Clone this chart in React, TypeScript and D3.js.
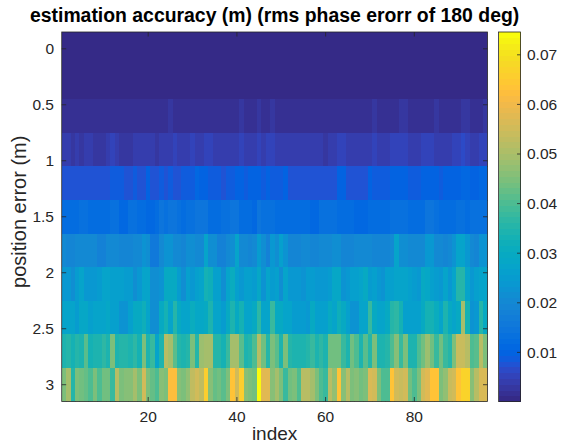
import { useEffect, useRef } from "react";
import * as d3 from "d3";

// image rows (position error, m) and columns (index)
const positionErrors = [0, 0.3, 0.6, 0.9, 1.2, 1.5, 1.8, 2.1, 2.4, 2.7, 3.0];
const indexValues = d3.range(1, 97);
const xTickValues = [20, 40, 60, 80];
const yTickValues = [0, 0.5, 1, 1.5, 2, 2.5, 3];
const colorTickValues = [0.01, 0.02, 0.03, 0.04, 0.05, 0.06, 0.07];

// estimation accuracy (m), one array per row, index 1..96
const acc00 = [
  0.0001, 0.0001, 0.0001, 0.0001, 0.0001, 0.0001, 0.0001, 0.0001, 0.0001, 0.0001, 0.0001, 0.0001,
  0.0001, 0.0001, 0.0001, 0.0001, 0.0001, 0.0001, 0.0001, 0.0001, 0.0001, 0.0001, 0.0001, 0.0001,
  0.0001, 0.0001, 0.0001, 0.0001, 0.0001, 0.0001, 0.0001, 0.0001, 0.0001, 0.0001, 0.0001, 0.0001,
  0.0001, 0.0001, 0.0001, 0.0001, 0.0001, 0.0001, 0.0001, 0.0001, 0.0001, 0.0001, 0.0001, 0.0001,
  0.0001, 0.0001, 0.0001, 0.0001, 0.0001, 0.0001, 0.0001, 0.0001, 0.0001, 0.0001, 0.0001, 0.0001,
  0.0001, 0.0001, 0.0001, 0.0001, 0.0001, 0.0001, 0.0001, 0.0001, 0.0001, 0.0001, 0.0001, 0.0001,
  0.0001, 0.0001, 0.0001, 0.0001, 0.0001, 0.0001, 0.0001, 0.0001, 0.0001, 0.0001, 0.0001, 0.0001,
  0.0001, 0.0001, 0.0001, 0.0001, 0.0001, 0.0001, 0.0001, 0.0001, 0.0001, 0.0001, 0.0001, 0.0001,
];
const acc03 = [
  0.0004, 0.0004, 0.0004, 0.0004, 0.0004, 0.0004, 0.0004, 0.0004, 0.0004, 0.0004, 0.0004, 0.0004,
  0.0004, 0.0004, 0.0004, 0.0004, 0.0004, 0.0004, 0.0004, 0.0004, 0.0004, 0.0004, 0.0004, 0.0004,
  0.0004, 0.0004, 0.0004, 0.0004, 0.0004, 0.0004, 0.0004, 0.0004, 0.0004, 0.0004, 0.0004, 0.0004,
  0.0004, 0.0004, 0.0004, 0.0004, 0.0004, 0.0004, 0.0004, 0.0004, 0.0004, 0.0004, 0.0004, 0.0004,
  0.0004, 0.0004, 0.0004, 0.0004, 0.0004, 0.0004, 0.0004, 0.0004, 0.0004, 0.0004, 0.0004, 0.0004,
  0.0004, 0.0004, 0.0004, 0.0004, 0.0004, 0.0004, 0.0004, 0.0004, 0.0004, 0.0004, 0.0004, 0.0004,
  0.0004, 0.0004, 0.0004, 0.0004, 0.0004, 0.0004, 0.0004, 0.0004, 0.0004, 0.0004, 0.0004, 0.0004,
  0.0004, 0.0004, 0.0004, 0.0004, 0.0004, 0.0004, 0.0004, 0.0004, 0.0004, 0.0004, 0.0004, 0.0004,
];
const acc06 = [
  0.002, 0.002, 0.002, 0.002, 0.002, 0.002, 0.002, 0.002, 0.002, 0.002, 0.002, 0.002,
  0.002, 0.002, 0.002, 0.002, 0.002, 0.002, 0.002, 0.002, 0.002, 0.002, 0.002, 0.002,
  0.003, 0.002, 0.002, 0.002, 0.002, 0.002, 0.002, 0.002, 0.002, 0.002, 0.002, 0.002,
  0.002, 0.002, 0.002, 0.002, 0.003, 0.002, 0.002, 0.002, 0.0028, 0.002, 0.002, 0.0028,
  0.002, 0.002, 0.002, 0.002, 0.002, 0.002, 0.002, 0.002, 0.002, 0.002, 0.002, 0.002,
  0.002, 0.002, 0.002, 0.002, 0.002, 0.002, 0.002, 0.002, 0.002, 0.002, 0.003, 0.002,
  0.002, 0.002, 0.002, 0.002, 0.0032, 0.0026, 0.002, 0.002, 0.002, 0.002, 0.002, 0.002,
  0.003, 0.0022, 0.0022, 0.0022, 0.0022, 0.0022, 0.0032, 0.0028, 0.0024, 0.0022, 0.0022, 0.0028,
];
const acc09 = [
  0.0042, 0.0042, 0.003, 0.0045, 0.003, 0.0042, 0.0042, 0.0035, 0.0035, 0.0035, 0.0045, 0.0048,
  0.004, 0.0033, 0.0033, 0.0033, 0.0046, 0.0046, 0.0046, 0.0046, 0.0046, 0.0033, 0.0045, 0.0045,
  0.0045, 0.005, 0.0038, 0.0038, 0.0038, 0.005, 0.004, 0.004, 0.0048, 0.0048, 0.0045, 0.0045,
  0.0045, 0.0045, 0.004, 0.0046, 0.0055, 0.0042, 0.0042, 0.0042, 0.0048, 0.0038, 0.0048, 0.0048,
  0.0042, 0.0042, 0.0042, 0.0042, 0.0042, 0.0042, 0.0042, 0.0042, 0.0042, 0.0042, 0.0042, 0.0032,
  0.0045, 0.0045, 0.0055, 0.0055, 0.0042, 0.0042, 0.0042, 0.0042, 0.0042, 0.0042, 0.005, 0.004,
  0.004, 0.004, 0.0048, 0.0048, 0.0055, 0.005, 0.0042, 0.0042, 0.0042, 0.0048, 0.0048, 0.0056,
  0.0045, 0.0045, 0.0042, 0.0042, 0.0052, 0.0052, 0.0062, 0.005, 0.0042, 0.0042, 0.005, 0.005,
];
const acc12 = [
  0.008, 0.0075, 0.0075, 0.0078, 0.0078, 0.0078, 0.0072, 0.0072, 0.008, 0.008, 0.0082, 0.0085,
  0.0085, 0.0088, 0.0078, 0.0078, 0.009, 0.0082, 0.0082, 0.0095, 0.008, 0.008, 0.0085, 0.0078,
  0.0092, 0.0078, 0.0078, 0.0085, 0.0088, 0.0088, 0.011, 0.0095, 0.0095, 0.0085, 0.0085, 0.0085,
  0.0078, 0.009, 0.0085, 0.0105, 0.01, 0.009, 0.01, 0.01, 0.0105, 0.009, 0.01, 0.0085,
  0.0085, 0.0085, 0.0095, 0.008, 0.008, 0.008, 0.008, 0.008, 0.008, 0.008, 0.008, 0.008,
  0.008, 0.008, 0.01, 0.0105, 0.0082, 0.0082, 0.0082, 0.0082, 0.0082, 0.0098, 0.009, 0.0085,
  0.0085, 0.0092, 0.01, 0.0095, 0.0105, 0.0098, 0.0088, 0.0088, 0.0092, 0.0105, 0.0105, 0.0105,
  0.0098, 0.009, 0.01, 0.01, 0.0105, 0.0105, 0.0108, 0.0108, 0.0098, 0.0105, 0.011, 0.011,
];
const acc15 = [
  0.0125, 0.0125, 0.0125, 0.0125, 0.013, 0.013, 0.012, 0.012, 0.012, 0.012, 0.012, 0.0135,
  0.0135, 0.011, 0.011, 0.013, 0.014, 0.0125, 0.0125, 0.0115, 0.0115, 0.0125, 0.0145, 0.0135,
  0.015, 0.015, 0.0135, 0.012, 0.0135, 0.0135, 0.015, 0.015, 0.0145, 0.0125, 0.0125, 0.012,
  0.013, 0.013, 0.0145, 0.0145, 0.0125, 0.012, 0.012, 0.0115, 0.015, 0.0135, 0.0135, 0.0135,
  0.0125, 0.0125, 0.0125, 0.0125, 0.012, 0.012, 0.012, 0.012, 0.0115, 0.0115, 0.013, 0.013,
  0.013, 0.0135, 0.012, 0.012, 0.012, 0.012, 0.0115, 0.0115, 0.0115, 0.0118, 0.0118, 0.0118,
  0.0118, 0.0125, 0.0135, 0.013, 0.013, 0.013, 0.0125, 0.0125, 0.012, 0.012, 0.0145, 0.0145,
  0.0135, 0.012, 0.012, 0.012, 0.0125, 0.014, 0.014, 0.0125, 0.0135, 0.014, 0.0135, 0.0135,
];
const acc18 = [
  0.02, 0.019, 0.019, 0.02, 0.02, 0.02, 0.02, 0.02, 0.018, 0.018, 0.021, 0.021,
  0.021, 0.019, 0.019, 0.019, 0.02, 0.02, 0.023, 0.022, 0.016, 0.016, 0.02, 0.023,
  0.023, 0.02, 0.02, 0.019, 0.022, 0.022, 0.021, 0.021, 0.028, 0.022, 0.022, 0.018,
  0.018, 0.021, 0.022, 0.028, 0.02, 0.02, 0.019, 0.02, 0.025, 0.022, 0.018, 0.024,
  0.022, 0.026, 0.023, 0.019, 0.019, 0.019, 0.02, 0.02, 0.019, 0.019, 0.02, 0.02,
  0.02, 0.022, 0.022, 0.019, 0.019, 0.019, 0.02, 0.02, 0.02, 0.02, 0.019, 0.019,
  0.019, 0.019, 0.021, 0.028, 0.022, 0.022, 0.02, 0.02, 0.021, 0.02, 0.024, 0.024,
  0.02, 0.02, 0.019, 0.02, 0.023, 0.027, 0.027, 0.024, 0.02, 0.019, 0.023, 0.023,
];
const acc21 = [
  0.024, 0.024, 0.022, 0.025, 0.027, 0.024, 0.024, 0.024, 0.025, 0.027, 0.027, 0.026,
  0.026, 0.026, 0.025, 0.025, 0.022, 0.024, 0.028, 0.028, 0.022, 0.022, 0.023, 0.03,
  0.03, 0.03, 0.025, 0.022, 0.026, 0.024, 0.026, 0.027, 0.033, 0.032, 0.026, 0.026,
  0.022, 0.028, 0.031, 0.026, 0.024, 0.026, 0.026, 0.025, 0.029, 0.023, 0.027, 0.025,
  0.026, 0.022, 0.027, 0.024, 0.024, 0.024, 0.023, 0.025, 0.025, 0.024, 0.024, 0.024,
  0.025, 0.029, 0.029, 0.023, 0.024, 0.026, 0.026, 0.028, 0.03, 0.025, 0.026, 0.024,
  0.023, 0.026, 0.026, 0.028, 0.028, 0.028, 0.026, 0.025, 0.024, 0.03, 0.029, 0.026,
  0.025, 0.024, 0.027, 0.024, 0.028, 0.036, 0.036, 0.027, 0.024, 0.026, 0.027, 0.028,
];
const acc24 = [
  0.027, 0.028, 0.028, 0.025, 0.029, 0.029, 0.026, 0.028, 0.028, 0.027, 0.029, 0.026,
  0.026, 0.023, 0.023, 0.026, 0.03, 0.03, 0.032, 0.028, 0.022, 0.022, 0.03, 0.033,
  0.027, 0.036, 0.03, 0.028, 0.028, 0.031, 0.029, 0.029, 0.03, 0.034, 0.027, 0.027,
  0.025, 0.03, 0.035, 0.03, 0.033, 0.028, 0.028, 0.03, 0.037, 0.027, 0.028, 0.038,
  0.03, 0.03, 0.028, 0.027, 0.025, 0.025, 0.025, 0.024, 0.03, 0.026, 0.026, 0.026,
  0.03, 0.028, 0.032, 0.03, 0.026, 0.023, 0.023, 0.027, 0.028, 0.038, 0.03, 0.028,
  0.028, 0.03, 0.036, 0.037, 0.033, 0.026, 0.026, 0.026, 0.026, 0.03, 0.033, 0.033,
  0.031, 0.028, 0.035, 0.03, 0.028, 0.03, 0.05, 0.033, 0.023, 0.024, 0.036, 0.03,
];
const acc27 = [
  0.034, 0.036, 0.033, 0.036, 0.034, 0.041, 0.033, 0.034, 0.034, 0.037, 0.034, 0.045,
  0.034, 0.036, 0.036, 0.034, 0.037, 0.033, 0.045, 0.035, 0.038, 0.028, 0.035, 0.052,
  0.05, 0.042, 0.036, 0.034, 0.036, 0.045, 0.036, 0.048, 0.05, 0.05, 0.036, 0.036,
  0.033, 0.038, 0.05, 0.05, 0.042, 0.034, 0.036, 0.04, 0.052, 0.044, 0.036, 0.045,
  0.042, 0.034, 0.045, 0.036, 0.034, 0.034, 0.034, 0.036, 0.038, 0.034, 0.037, 0.034,
  0.044, 0.044, 0.044, 0.038, 0.034, 0.044, 0.04, 0.034, 0.042, 0.036, 0.045, 0.034,
  0.034, 0.036, 0.04, 0.046, 0.038, 0.045, 0.034, 0.034, 0.04, 0.044, 0.048, 0.044,
  0.038, 0.044, 0.038, 0.036, 0.045, 0.054, 0.054, 0.052, 0.04, 0.042, 0.052, 0.045,
];
const acc30 = [
  0.045, 0.05, 0.036, 0.045, 0.044, 0.043, 0.04, 0.045, 0.04, 0.044, 0.044, 0.038,
  0.052, 0.045, 0.046, 0.046, 0.05, 0.045, 0.055, 0.045, 0.043, 0.04, 0.046, 0.045,
  0.062, 0.062, 0.046, 0.045, 0.047, 0.053, 0.055, 0.053, 0.066, 0.046, 0.043, 0.044,
  0.042, 0.045, 0.064, 0.055, 0.066, 0.046, 0.045, 0.044, 0.0746, 0.058, 0.058, 0.046,
  0.05, 0.045, 0.038, 0.044, 0.045, 0.04, 0.052, 0.052, 0.05, 0.045, 0.04, 0.038,
  0.052, 0.047, 0.064, 0.046, 0.052, 0.045, 0.046, 0.044, 0.045, 0.056, 0.055, 0.045,
  0.04, 0.04, 0.064, 0.055, 0.054, 0.055, 0.044, 0.04, 0.045, 0.055, 0.058, 0.063,
  0.063, 0.045, 0.047, 0.054, 0.055, 0.064, 0.067, 0.067, 0.046, 0.052, 0.057, 0.057,
];
const accuracyRows = [acc00, acc03, acc06, acc09, acc12, acc15, acc18, acc21, acc24, acc27, acc30];

// parula(64)
const parula = [
  [0.2081, 0.1663, 0.5292], [0.2116, 0.1898, 0.5777], [0.2123, 0.2138, 0.627], [0.2081, 0.2386, 0.6771],
  [0.1959, 0.2645, 0.7279], [0.1707, 0.2919, 0.7792], [0.1253, 0.3242, 0.8303], [0.0591, 0.3598, 0.8683],
  [0.0117, 0.3875, 0.882], [0.006, 0.4086, 0.8828], [0.0165, 0.4266, 0.8786], [0.0329, 0.443, 0.872],
  [0.0498, 0.4586, 0.8641], [0.0629, 0.4737, 0.8554], [0.0723, 0.4887, 0.8467], [0.0779, 0.504, 0.8384],
  [0.0793, 0.52, 0.8312], [0.0749, 0.5375, 0.8263], [0.0641, 0.557, 0.824], [0.0488, 0.5772, 0.8228],
  [0.0343, 0.5966, 0.8199], [0.0265, 0.6137, 0.8135], [0.0239, 0.6287, 0.8038], [0.0231, 0.6418, 0.7913],
  [0.0228, 0.6535, 0.7768], [0.0267, 0.6642, 0.7607], [0.0384, 0.6743, 0.7436], [0.059, 0.6838, 0.7254],
  [0.0843, 0.6928, 0.7062], [0.1133, 0.7015, 0.6859], [0.1453, 0.7098, 0.6646], [0.1801, 0.7177, 0.6424],
  [0.2178, 0.725, 0.6193], [0.2586, 0.7317, 0.5954], [0.3022, 0.7376, 0.5712], [0.3482, 0.7424, 0.5473],
  [0.3953, 0.7459, 0.5244], [0.442, 0.7481, 0.5033], [0.4871, 0.7491, 0.484], [0.53, 0.7491, 0.4661],
  [0.5709, 0.7485, 0.4494], [0.6099, 0.7473, 0.4337], [0.6473, 0.7456, 0.4188], [0.6834, 0.7435, 0.4044],
  [0.7184, 0.7411, 0.3905], [0.7525, 0.7384, 0.3768], [0.7858, 0.7356, 0.3633], [0.8185, 0.7327, 0.3498],
  [0.8507, 0.7299, 0.336], [0.8824, 0.7274, 0.3217], [0.9139, 0.7258, 0.3063], [0.945, 0.7261, 0.2886],
  [0.9739, 0.7314, 0.2666], [0.9938, 0.7455, 0.2403], [0.999, 0.7653, 0.2164], [0.9955, 0.7861, 0.1967],
  [0.988, 0.8066, 0.1794], [0.9789, 0.8271, 0.1633], [0.9697, 0.8481, 0.1475], [0.9626, 0.8705, 0.1309],
  [0.9589, 0.8949, 0.1132], [0.9598, 0.9218, 0.0948], [0.9661, 0.9514, 0.0755], [0.9763, 0.9831, 0.0538],
];

export default function App() {
  const svgRef = useRef<SVGSVGElement>(null);

  useEffect(() => {
    if (!svgRef.current) return;
    const width = 563;
    const height = 445;
    const plot = { left: 61.7, right: 487.5, top: 32, bottom: 401.5 };
    const bar = { left: 498.5, right: 520.5 };
    const ink = "#262626";
    const font = "'Liberation Sans', Arial, Helvetica, sans-serif";
    const tickLen = 4.5;
    const tickFont = 15.5;

    const svg = d3.select(svgRef.current);
    svg.selectAll("*").remove();
    svg.attr("width", width).attr("height", height).style("background", "#fff");

    const x = d3.scaleLinear().domain([0.5, 96.5]).range([plot.left, plot.right]);
    const y = d3.scaleLinear().domain([-0.15, 3.15]).range([plot.top, plot.bottom]);

    const all = accuracyRows.flat();
    const vMin = d3.min(all) as number;
    const vMax = d3.max(all) as number;
    const colorOf = (v: number) => {
      const k = Math.max(0, Math.min(63, Math.floor(((v - vMin) / (vMax - vMin)) * 64)));
      const [r, g, b] = parula[k];
      return d3.rgb(r * 255, g * 255, b * 255).formatHex();
    };

    svg
      .append("clipPath")
      .attr("id", "plot-clip")
      .append("rect")
      .attr("x", plot.left)
      .attr("y", plot.top)
      .attr("width", plot.right - plot.left)
      .attr("height", plot.bottom - plot.top);

    const cells = accuracyRows.flatMap((row, ri) =>
      row.map((v, ci) => ({ pos: positionErrors[ri], idx: indexValues[ci], v }))
    );

    svg
      .append("g")
      .attr("clip-path", "url(#plot-clip)")
      .attr("shape-rendering", "crispEdges")
      .selectAll("rect")
      .data(cells)
      .join("rect")
      .attr("x", (d) => x(d.idx - 0.5))
      .attr("y", (d) => y(d.pos - 0.15))
      .attr("width", (d) => x(d.idx + 0.5) - x(d.idx - 0.5) + 0.6)
      .attr("height", (d) => y(d.pos + 0.15) - y(d.pos - 0.15) + 0.6)
      .attr("fill", (d) => colorOf(d.v));

    // axes box + inward ticks
    const axes = svg.append("g").attr("stroke", ink).attr("stroke-width", 0.8).attr("fill", "none");
    axes
      .append("rect")
      .attr("x", plot.left)
      .attr("y", plot.top)
      .attr("width", plot.right - plot.left)
      .attr("height", plot.bottom - plot.top);
    xTickValues.forEach((t) => {
      axes.append("line").attr("x1", x(t)).attr("x2", x(t)).attr("y1", plot.bottom).attr("y2", plot.bottom - tickLen);
      axes.append("line").attr("x1", x(t)).attr("x2", x(t)).attr("y1", plot.top).attr("y2", plot.top + tickLen);
    });
    yTickValues.forEach((t) => {
      axes.append("line").attr("x1", plot.left).attr("x2", plot.left + tickLen).attr("y1", y(t)).attr("y2", y(t));
      axes.append("line").attr("x1", plot.right).attr("x2", plot.right - tickLen).attr("y1", y(t)).attr("y2", y(t));
    });

    const labels = svg.append("g").attr("fill", ink).attr("font-family", font);
    labels
      .selectAll("text.xtick")
      .data(xTickValues)
      .join("text")
      .attr("class", "xtick")
      .attr("x", (t) => x(t))
      .attr("y", 422)
      .attr("text-anchor", "middle")
      .attr("font-size", tickFont)
      .text((t) => String(t));
    labels
      .selectAll("text.ytick")
      .data(yTickValues)
      .join("text")
      .attr("class", "ytick")
      .attr("x", 54)
      .attr("y", (t) => y(t))
      .attr("dy", "0.35em")
      .attr("text-anchor", "end")
      .attr("font-size", tickFont)
      .text((t) => String(t));

    labels
      .append("text")
      .attr("x", (plot.left + plot.right) / 2)
      .attr("y", 440)
      .attr("text-anchor", "middle")
      .attr("font-size", 19)
      .text("index");
    labels
      .append("text")
      .attr("transform", `translate(26,${(plot.top + plot.bottom) / 2 - 5}) rotate(-90)`)
      .attr("text-anchor", "middle")
      .attr("font-size", 20)
      .text("position error (m)");
    labels
      .append("text")
      .attr("x", (plot.left + plot.right) / 2)
      .attr("y", 22)
      .attr("text-anchor", "middle")
      .attr("font-size", 19.4)
      .attr("font-weight", "bold")
      .attr("fill", "#000")
      .text("estimation accuracy (m) (rms phase erorr of 180 deg)");

    // colorbar
    const c = d3.scaleLinear().domain([vMin, vMax]).range([plot.bottom, plot.top]);
    const step = (vMax - vMin) / 64;
    svg
      .append("g")
      .attr("shape-rendering", "crispEdges")
      .selectAll("rect")
      .data(parula)
      .join("rect")
      .attr("x", bar.left)
      .attr("width", bar.right - bar.left)
      .attr("y", (_, k) => c(vMin + (k + 1) * step))
      .attr("height", (_, k) => c(vMin + k * step) - c(vMin + (k + 1) * step) + 0.6)
      .attr("fill", ([r, g, b]) => d3.rgb(r * 255, g * 255, b * 255).formatHex());
    const barAxis = svg.append("g").attr("stroke", ink).attr("stroke-width", 0.8).attr("fill", "none");
    barAxis
      .append("rect")
      .attr("x", bar.left)
      .attr("y", plot.top)
      .attr("width", bar.right - bar.left)
      .attr("height", plot.bottom - plot.top);
    colorTickValues.forEach((t) => {
      barAxis.append("line").attr("x1", bar.right - 3.5).attr("x2", bar.right).attr("y1", c(t)).attr("y2", c(t));
    });
    labels
      .selectAll("text.ctick")
      .data(colorTickValues)
      .join("text")
      .attr("class", "ctick")
      .attr("x", 527)
      .attr("y", (t) => c(t))
      .attr("dy", "0.35em")
      .attr("font-size", tickFont)
      .text((t) => String(t));
  }, []);

  return <svg ref={svgRef} style={{ position: "absolute", left: 0, top: 0 }} />;
}
